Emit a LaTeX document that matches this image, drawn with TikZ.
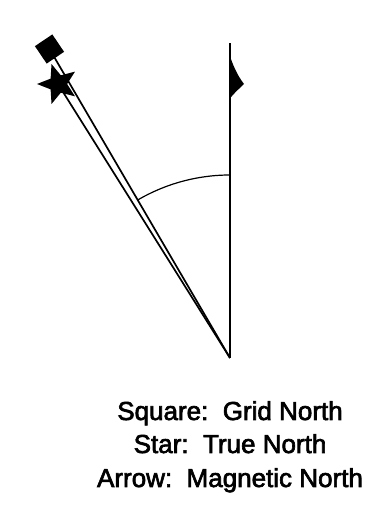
\documentclass[tikz,border=0pt]{standalone}
\usepackage{fontspec}
\setmainfont{Liberation Sans}
\newfontfamily\legendfont[FakeBold=2.5]{Liberation Sans}
\usetikzlibrary{shapes.geometric}
\begin{document}
\begin{tikzpicture}[x=1pt,y=1pt,
  ray/.style={line width=1.7pt},
  legend/.style={anchor=base,font=\legendfont\fontsize{26}{30}\selectfont,inner sep=0pt}]
\useasboundingbox (0,0) rectangle (389,507);
\coordinate (V) at (230,149);
\coordinate (T) at (230,464);
\coordinate (S) at (58,423);
\coordinate (Q) at (49.5,458);
% rays
\draw[ray] (V) -- (T);
\draw[ray] (V) -- (S);
\draw[ray] (V) -- (Q);
% angle arc
\draw[line width=1.2pt] (230,332) arc[start angle=90,end angle=120.4,radius=183];
% symbols
\node[fill=black,rotate=34,minimum size=21pt,inner sep=0pt] (sq) at (Q) {};
\node[star,star points=5,star point ratio=2.3,fill=black,minimum size=42pt,inner sep=0pt,rotate=18] (st) at (S) {};
% half-arrow flag
\fill (229.5,452) .. controls (233,442) and (237,432) .. (244,423)
  .. controls (240,419) and (234,414) .. (229.5,408) -- cycle;
% legend
\node[legend] (l1) at (230,87) {Square:\ \ Grid North};
\node[legend] (l2) at (230,54) {Star:\ \ True North};
\node[legend] (l3) at (230,20) {Arrow:\ \ Magnetic North};
\end{tikzpicture}
\end{document}
